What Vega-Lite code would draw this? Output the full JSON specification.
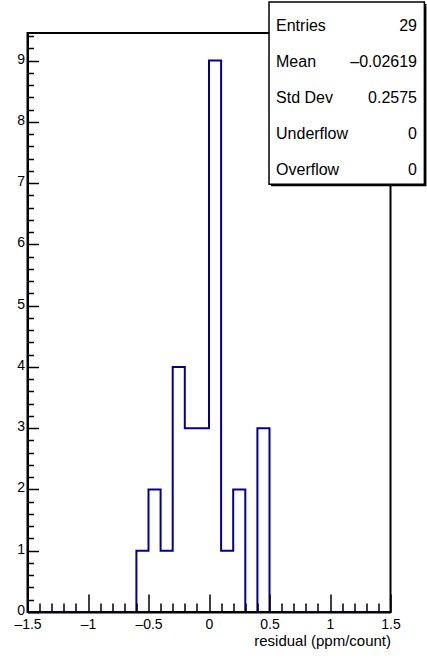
{
  "$schema": "https://vega.github.io/schema/vega-lite/v6.json",
  "width": 363,
  "height": 579,
  "autosize": {"type": "none"},
  "padding": {"left": 27.5, "top": 33, "right": 36.5, "bottom": 48},
  "background": "white",
  "config": {
    "view": {"stroke": "black", "strokeWidth": 2},
    "font": "Liberation Sans",
    "axis": {"grid": false}
  },
  "datasets": {
    "hist": [
      {"bin_low": -1.5, "count": 0}, {"bin_low": -1.4, "count": 0}, {"bin_low": -1.3, "count": 0},
      {"bin_low": -1.2, "count": 0}, {"bin_low": -1.1, "count": 0}, {"bin_low": -1.0, "count": 0},
      {"bin_low": -0.9, "count": 0}, {"bin_low": -0.8, "count": 0}, {"bin_low": -0.7, "count": 0},
      {"bin_low": -0.6, "count": 1}, {"bin_low": -0.5, "count": 2}, {"bin_low": -0.4, "count": 1},
      {"bin_low": -0.3, "count": 4}, {"bin_low": -0.2, "count": 3}, {"bin_low": -0.1, "count": 3},
      {"bin_low": 0.0, "count": 9}, {"bin_low": 0.1, "count": 1}, {"bin_low": 0.2, "count": 2},
      {"bin_low": 0.3, "count": 0}, {"bin_low": 0.4, "count": 3}, {"bin_low": 0.5, "count": 0},
      {"bin_low": 0.6, "count": 0}, {"bin_low": 0.7, "count": 0}, {"bin_low": 0.8, "count": 0},
      {"bin_low": 0.9, "count": 0}, {"bin_low": 1.0, "count": 0}, {"bin_low": 1.1, "count": 0},
      {"bin_low": 1.2, "count": 0}, {"bin_low": 1.3, "count": 0}, {"bin_low": 1.4, "count": 0},
      {"bin_low": 1.5, "count": 0}
    ],
    "stats": [
      {"stat": "Entries", "value": "29"},
      {"stat": "Mean", "value": "–0.02619"},
      {"stat": "Std Dev", "value": "0.2575"},
      {"stat": "Underflow", "value": "0"},
      {"stat": "Overflow", "value": "0"}
    ],
    "box": [{"name": "stats"}]
  },
  "layer": [
    {
      "data": {"name": "hist"},
      "mark": {"type": "line", "interpolate": "step-after", "color": "#000099", "strokeWidth": 2},
      "encoding": {
        "x": {
          "field": "bin_low", "type": "quantitative",
          "scale": {"domain": [-1.5, 1.5], "nice": false, "zero": false},
          "axis": {
            "orient": "bottom",
            "values": [-1.5, -1, -0.5, 0, 0.5, 1, 1.5],
            "labelExpr": "replace(replace(format(datum.value, '~g'), '−', '–'), '-', '–')",
            "ticks": false,
            "domain": true, "domainColor": "black", "domainWidth": 2,
            "labelFontSize": 14, "labelColor": "black", "labelPadding": 5,
            "labelFlush": false, "labelOverlap": false, "labelBaseline": "top",
            "title": "residual (ppm/count)", "titleAnchor": "end", "titleFontSize": 15,
            "titleFontWeight": "normal", "titleColor": "black", "titlePadding": 2,
            "zindex": 1
          }
        },
        "y": {
          "field": "count", "type": "quantitative",
          "scale": {"domain": [0, 9.45], "nice": false},
          "axis": {
            "orient": "left",
            "values": [0, 1, 2, 3, 4, 5, 6, 7, 8, 9],
            "ticks": false,
            "domain": true, "domainColor": "black", "domainWidth": 2,
            "labelFontSize": 14, "labelColor": "black", "labelPadding": 3, "labelOffset": -1.5,
            "labelOverlap": false, "labelFlush": false,
            "title": null,
            "zindex": 1
          }
        }
      }
    },
    {
      "data": {"name": "hist"},
      "mark": {"type": "line", "interpolate": "step-after", "strokeOpacity": 0},
      "encoding": {
        "x": {
          "field": "bin_low", "type": "quantitative",
          "scale": {"domain": [-1.5, 1.5], "nice": false, "zero": false},
          "axis": {
            "orient": "bottom",
            "values": [-1.5,-1.4,-1.3,-1.2,-1.1,-1,-0.9,-0.8,-0.7,-0.6,-0.5,-0.4,-0.3,-0.2,-0.1,0,0.1,0.2,0.3,0.4,0.5,0.6,0.7,0.8,0.9,1,1.1,1.2,1.3,1.4,1.5],
            "labels": false, "domain": false, "title": null,
            "ticks": true, "tickSize": 18, "offset": -18,
            "tickColor": "black", "tickWidth": 1.5,
            "tickDash": {"condition": {"test": "abs(datum.value*2 - round(datum.value*2)) > 0.01", "value": [0, 9, 9, 0]}, "value": [18, 0]},
            "zindex": 1
          }
        },
        "y": {
          "field": "count", "type": "quantitative",
          "scale": {"domain": [0, 9.45], "nice": false},
          "axis": {
            "orient": "left",
            "values": [0,0.2,0.4,0.6,0.8,1,1.2,1.4,1.6,1.8,2,2.2,2.4,2.6,2.8,3,3.2,3.4,3.6,3.8,4,4.2,4.4,4.6,4.8,5,5.2,5.4,5.6,5.8,6,6.2,6.4,6.6,6.8,7,7.2,7.4,7.6,7.8,8,8.2,8.4,8.6,8.8,9,9.2,9.4],
            "labels": false, "domain": false, "title": null,
            "ticks": true, "tickSize": 11, "offset": -11,
            "tickColor": "black", "tickWidth": 1.5,
            "tickDash": {"condition": {"test": "abs(datum.value - round(datum.value)) > 0.01", "value": [0, 5, 6, 0]}, "value": [11, 0]},
            "zindex": 1
          }
        }
      }
    },
    {
      "data": {"name": "box"},
      "mark": {"type": "rect", "fill": "black", "stroke": null},
      "encoding": {
        "x": {"datum": 0.513, "type": "quantitative", "scale": {"domain": [-1.5, 1.5], "nice": false, "zero": false}, "axis": null},
        "x2": {"datum": 1.797},
        "y": {"datum": 9.923, "type": "quantitative", "scale": {"domain": [0, 9.45], "nice": false}, "axis": null},
        "y2": {"datum": 6.947}
      }
    },
    {
      "data": {"name": "box"},
      "mark": {"type": "rect", "fill": "white", "stroke": "black", "strokeWidth": 1.5},
      "encoding": {
        "x": {"datum": 0.496, "type": "quantitative", "scale": {"domain": [-1.5, 1.5], "nice": false, "zero": false}, "axis": null},
        "x2": {"datum": 1.78},
        "y": {"datum": 9.956, "type": "quantitative", "scale": {"domain": [0, 9.45], "nice": false}, "axis": null},
        "y2": {"datum": 6.98}
      }
    },
    {
      "data": {"name": "stats"},
      "mark": {"type": "text", "align": "left", "baseline": "middle", "fontSize": 16, "font": "Liberation Sans", "color": "black"},
      "encoding": {
        "x": {"datum": 0.554, "type": "quantitative", "scale": {"domain": [-1.5, 1.5], "nice": false, "zero": false}, "axis": null},
        "y": {"field": "stat", "type": "nominal", "sort": null, "scale": {"type": "point", "domain": ["Entries", "Mean", "Std Dev", "Underflow", "Overflow"], "range": [-7, 137], "padding": 0}, "axis": null},
        "text": {"field": "stat"}
      }
    },
    {
      "data": {"name": "stats"},
      "mark": {"type": "text", "align": "right", "baseline": "middle", "fontSize": 16, "font": "Liberation Sans", "color": "black"},
      "encoding": {
        "x": {"datum": 1.719, "type": "quantitative", "scale": {"domain": [-1.5, 1.5], "nice": false, "zero": false}, "axis": null},
        "y": {"field": "stat", "type": "nominal", "sort": null, "scale": {"type": "point", "domain": ["Entries", "Mean", "Std Dev", "Underflow", "Overflow"], "range": [-7, 137], "padding": 0}, "axis": null},
        "text": {"field": "value"}
      }
    }
  ],
  "resolve": {"scale": {"y": "independent"}, "axis": {"x": "independent", "y": "independent"}}
}
